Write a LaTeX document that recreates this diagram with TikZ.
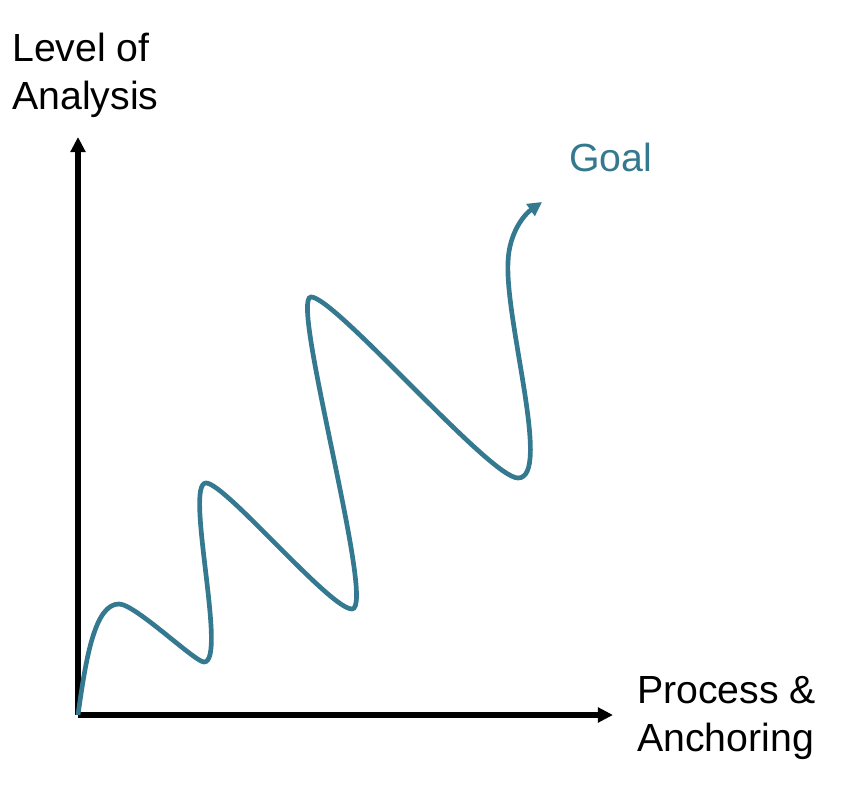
\documentclass[tikz,border=0pt]{standalone}
\usepackage{fontspec}
\setmainfont{Liberation Sans}
\usepackage{xcolor}
\usetikzlibrary{arrows.meta}

\definecolor{goalteal}{RGB}{52,121,143}

\begin{document}
\begin{tikzpicture}[x=0.03cm, y=0.03cm,
    axis/.style={line width=4.4pt, -{Triangle[length=13pt, width=12.5pt]}},
    wiggle/.style={goalteal, line width=4pt, -{Triangle[length=12pt, width=12pt]}},
    lbl/.style={inner sep=0pt, align=left, font=\fontsize{33.5}{41}\selectfont}]
                        \useasboundingbox (0, 0) rectangle (844, 792);
                        \coordinate (o) at (78, 77);
                        \coordinate (yt) at (78, 655);
                        \coordinate (xt) at (613, 77);
                        \node[lbl, anchor=north west] (yl) at (12, 759) {Level of\\Analysis};
                        \node[lbl, anchor=north west] (xl) at (637, 116) {Process \&\\Anchoring};
                        \node[lbl, anchor=north west, text=goalteal] (g) at (569, 649) {Goal};
                        \draw[axis] (o) -- (yt);
                        \draw[axis] (o) -- (xt);
                        % path towards the goal
                        \draw[wiggle] (o) .. controls (86, 135) and (95, 188) .. (119, 188)
                        .. controls (135, 188) and (195, 130) .. (204, 130)
                        .. controls (228, 130) and (184, 309) .. (206, 309)
                        .. controls (225, 309) and (330, 183) .. (352, 183)
                        .. controls (377, 183) and (289, 495) .. (311, 495)
                        .. controls (335, 495) and (490, 314) .. (518, 314)
                        .. controls (552, 314) and (505, 470) .. (508, 530)
                        .. controls (509, 560) and (525, 578) .. (542, 590);
                    \end{tikzpicture}
\end{document}
